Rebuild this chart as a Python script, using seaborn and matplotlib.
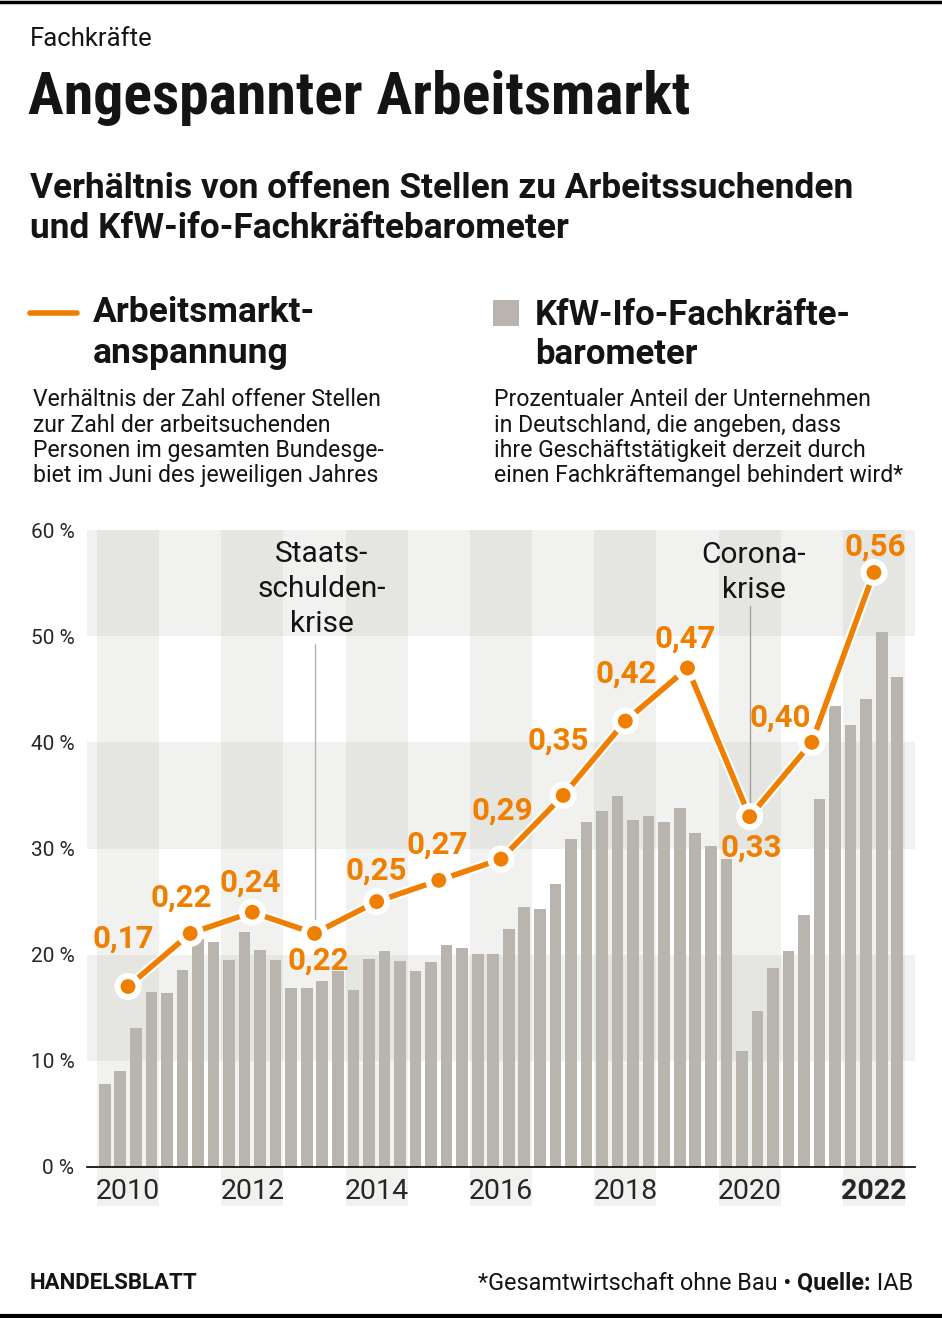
import numpy as np
import pandas as pd
import seaborn as sns
import matplotlib.pyplot as plt
import matplotlib.patheffects as pe

years = list(range(2010, 2023))
year_labels = [str(y) for y in years[::2]]

# Arbeitsmarktanspannung: offene Stellen je Arbeitssuchendem (Juni)
ratio = [0.17, 0.22, 0.24, 0.22, 0.25, 0.27, 0.29, 0.35, 0.42, 0.47, 0.33, 0.40, 0.56]

# KfW-ifo-Fachkraeftebarometer, quartalsweise, in Prozent
barometer = [7.8, 9.0, 13.1, 16.5,
             16.4, 18.6, 21.5, 21.2,
             19.5, 22.1, 20.4, 19.5,
             16.9, 16.9, 17.5, 18.5,
             16.7, 19.6, 20.3, 19.4,
             18.5, 19.3, 20.9, 20.6,
             20.1, 20.1, 22.4, 24.5,
             24.3, 26.7, 30.9, 32.5,
             33.5, 34.9, 32.7, 33.1,
             32.5, 33.8, 31.5, 30.2,
             29.0, 10.9, 14.7, 18.7,
             20.3, 23.7, 34.7, 43.4,
             41.6, 44.1, 50.4, 46.2]

y_ticks = [0, 10, 20, 30, 40, 50, 60]

# label offsets in pixels (dx, dy) relative to each point
label_off = [(-5, 48), (-9, 36), (-2, 30), (4, -27), (0, 31), (-2, 36), (1, 49),
             (-5, 55), (1, 48), (-2, 29), (2, -31), (-32, 25), (1, 26)]

ORANGE = '#ef7f00'
BAR = '#bab4ae'
BAND = '#a9a89c'
TXT = '#141414'

sns.set_style('white')
plt.rcParams['font.family'] = ['Roboto', 'DejaVu Sans']
plt.rcParams['text.color'] = TXT

W, H = 942, 1318
fig = plt.figure(figsize=(W / 100, H / 100), dpi=100)


def fx(px):
    return px / W


def fy(py):
    return 1 - py / H


ax = fig.add_axes([fx(87), fy(1167), (915 - 87) / W, (1167 - 530) / H])

df_bar = pd.DataFrame({
    'x': [y + (q + 0.5) / 4 for y in years for q in range(4)],
    'v': barometer,
})
df_line = pd.DataFrame({'x': [y + 0.5 for y in years], 'v': [r * 100 for r in ratio]})

# background bands
for lo in y_ticks[1::2]:
    ax.axhspan(lo, lo + 10, color=BAND, alpha=0.16, lw=0, zorder=0)
for y in years[::2]:
    ax.axvspan(y, y + 1, ymin=-0.062, ymax=1, color=BAND, alpha=0.16, lw=0,
               zorder=0, clip_on=False)

sns.barplot(data=df_bar, x='x', y='v', native_scale=True, width=0.75, color=BAR,
            saturation=1, linewidth=0, ax=ax, zorder=2)

# annotation lines
ax.plot([2013.5, 2013.5], [22, 49.3], color='#b3b3b3', lw=1, zorder=3)
ax.plot([2020.5, 2020.5], [33, 52.8], color='#a0a0a0', lw=1, zorder=3)

sns.lineplot(data=df_line, x='x', y='v', color=ORANGE, lw=4, marker='o',
             markersize=12.5, markeredgecolor='white', markeredgewidth=1.8, ax=ax,
             zorder=5,
             path_effects=[pe.Stroke(linewidth=7, foreground='white'), pe.Normal()])

for (x, v), r, (dx, dy) in zip(df_line[['x', 'v']].values, ratio, label_off):
    ax.annotate(f'{r:.2f}'.replace('.', ','), (x, v), xytext=(dx, dy),
                textcoords='offset pixels', ha='center', va='center',
                color=ORANGE, fontsize=22.5, fontweight='bold', zorder=6)

ax.text(2013.62, 54.4, 'Staats-\nschulden-\nkrise', ha='center', va='center',
        fontsize=21.5, linespacing=1.32, color=TXT, zorder=6)
ax.text(2020.57, 56.0, 'Corona-\nkrise', ha='center', va='center',
        fontsize=21.5, linespacing=1.32, color=TXT, zorder=6)

ax.set_xlim(2009.84, 2023.16)
ax.set_ylim(0, 60)
ax.set_yticks(y_ticks)
ax.set_yticklabels([f'{t} %' for t in y_ticks], fontsize=15)
ax.set_xticks([y + 0.5 for y in years[::2]])
ax.set_xticklabels(year_labels, fontsize=20.5)
ax.get_xticklabels()[-1].set_fontweight('bold')
ax.tick_params(axis='x', length=0, pad=8)
ax.tick_params(axis='y', length=0, pad=9)
ax.set_xlabel('')
ax.set_ylabel('')
ax.set_facecolor('none')
for s in ['top', 'left', 'right']:
    ax.spines[s].set_visible(False)
ax.spines['bottom'].set_color('black')
ax.spines['bottom'].set_linewidth(1.2)
ax.spines['bottom'].set_zorder(4)

# header
fig.text(fx(30), fy(39), 'Fachkräfte', fontsize=18.5, va='center', ha='left')
fig.text(fx(28), fy(98), 'Angespannter Arbeitsmarkt', fontsize=43, va='center',
         ha='left', fontweight='bold',
         family=['Liberation Sans Narrow', 'Roboto Condensed', 'DejaVu Sans'])
fig.text(fx(30), fy(188), 'Verhältnis von offenen Stellen zu Arbeitssuchenden',
         fontsize=25.4, fontweight='bold', va='center')
fig.text(fx(30), fy(229), 'und KfW-ifo-Fachkräftebarometer',
         fontsize=25.4, fontweight='bold', va='center')

# legend
fig.add_artist(plt.Line2D([fx(30), fx(77)], [fy(313), fy(313)], color=ORANGE, lw=4))
fig.text(fx(93), fy(313), 'Arbeitsmarkt-', fontsize=25.5, fontweight='bold', va='center')
fig.text(fx(93), fy(353), 'anspannung', fontsize=25.5, fontweight='bold', va='center')
fig.add_artist(plt.Rectangle((fx(493), fy(326)), 26 / W, 26 / H, color=BAR, lw=0))
fig.text(fx(535), fy(315), 'KfW-Ifo-Fachkräfte-', fontsize=25, fontweight='bold', va='center')
fig.text(fx(535), fy(355), 'barometer', fontsize=25, fontweight='bold', va='center')

desc_l = ['Verhältnis der Zahl offener Stellen', 'zur Zahl der arbeitsuchenden',
          'Personen im gesamten Bundesge-', 'biet im Juni des jeweiligen Jahres']
desc_r = ['Prozentualer Anteil der Unternehmen', 'in Deutschland, die angeben, dass',
          'ihre Geschäftstätigkeit derzeit durch',
          'einen Fachkräftemangel behindert wird*']
for i, (a, b) in enumerate(zip(desc_l, desc_r)):
    yy = 400 + i * 25.3
    fig.text(fx(33), fy(yy), a, fontsize=16.6, va='center')
    fig.text(fx(494), fy(yy), b, fontsize=16.6, va='center')

# footer
fig.text(fx(30), fy(1283), 'HANDELSBLATT', fontsize=16, fontweight='bold', va='center')
renderer = fig.canvas.get_renderer()
x_right = 913
for part, wt in [(' IAB', 'normal'), ('Quelle:', 'bold'),
                 ('*Gesamtwirtschaft ohne Bau • ', 'normal')]:
    t = fig.text(fx(x_right), fy(1283), part, fontsize=16.8, fontweight=wt,
                 va='center', ha='right')
    x_right -= t.get_window_extent(renderer).width

fig.add_artist(plt.Line2D([0, 1], [fy(1.5), fy(1.5)], color='black', lw=2.5))
fig.add_artist(plt.Line2D([0, 1], [fy(1315.5), fy(1315.5)], color='black', lw=3))

fig.savefig('out.png', dpi=100)
